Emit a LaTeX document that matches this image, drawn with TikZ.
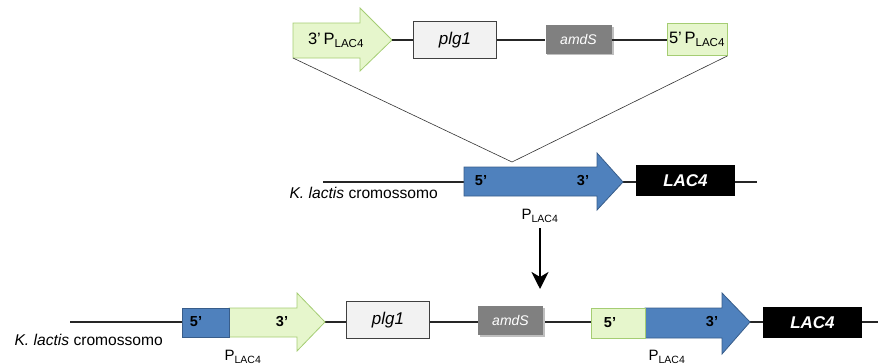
\documentclass[tikz,border=0pt]{standalone}
\usepackage{fontspec}
\setmainfont{Liberation Sans}
\usetikzlibrary{arrows.meta}
\definecolor{lgreen}{RGB}{230,246,204}
\definecolor{dgreen}{RGB}{165,205,115}
\definecolor{pblue}{RGB}{79,129,189}
\definecolor{dblue}{RGB}{56,93,138}
\definecolor{boxgray}{RGB}{242,242,242}
\definecolor{amdgray}{RGB}{128,128,128}
\newcommand\Plac{P\textsubscript{LAC4}}
\begin{document}
\begin{tikzpicture}[x=1pt,y=-1pt,
  chrom/.style={line width=1.1pt, black!85},
  thinline/.style={line width=0.6pt, black!80},
  greenshape/.style={draw=dgreen, fill=lgreen, line width=0.8pt},
  blueshape/.style={draw=dblue, fill=pblue, line width=0.8pt},
  plgbox/.style={draw=black!75, fill=boxgray, line width=0.8pt, minimum width=83pt, minimum height=37pt, inner sep=0pt, font=\fontsize{17}{17}\selectfont\itshape},
  amdbox/.style={fill=amdgray, minimum width=66pt, minimum height=29pt, inner sep=0pt, text=white, font=\fontsize{14}{14}\selectfont\itshape},
  lacbox/.style={fill=black, minimum width=99pt, minimum height=31pt, inner sep=0pt, text=white, font=\fontsize{17}{17}\selectfont\bfseries\itshape},
  primelabel/.style={inner sep=0pt, font=\fontsize{14.5}{14.5}\selectfont\bfseries},
  plabel/.style={inner sep=0pt, font=\fontsize{15}{15}\selectfont},
  toplabel/.style={inner sep=0pt, font=\fontsize{16.5}{16.5}\selectfont},
  chromlabel/.style={inner sep=0pt, anchor=east, font=\fontsize{15.6}{15.6}\selectfont}
]
\useasboundingbox (0,0) rectangle (878,364);

% ---------- top: construct ----------
\draw[greenshape] (293,23) -- (360,23) -- (360,8) -- (392,40) -- (360,71) -- (360,58) -- (293,58) -- cycle;
\coordinate (tA) at (392,40);
\coordinate (tAsw) at (293,58);
\node[toplabel] (t3p) at (336,40) {3'\,\Plac};
\node[plgbox] (tplg) at (455,40) {plg1};
\fill[black!25] (547,27) rectangle (614,55);
\node[amdbox] (tamd) at (578.5,39.5) {amdS};
\node[greenshape, minimum width=60pt, minimum height=32pt, inner sep=0pt, toplabel] (t5p) at (697,39.5) {5'\,\Plac};
\draw[chrom] (tA) -- (tplg.west);
\draw[chrom] (tplg.east) -- (tplg.east -| tamd.west);
\draw[chrom] (tamd.east |- tplg.east) -- (tplg.east -| t5p.west);

% ---------- middle: chromosome ----------
\coordinate (mL) at (323,182);
\coordinate (mR) at (757,182);
\coordinate (apex) at (512,162);
\draw[chrom] (mL) -- (mR);
\draw[blueshape] (464,167) -- (597,167) -- (597,153) -- (623,182) -- (597,210) -- (597,196) -- (464,196) -- cycle;
\node[lacbox] (mlac) at (685.5,180.5) {LAC4};
\node[primelabel] (m5) at (481,181) {5'};
\node[primelabel] (m3) at (583,181) {3'};
\node[plabel] (mP) at (540,216) {\Plac};
\node[chromlabel] (mK) at (438,193) {\textit{K. lactis} cromossomo};
\draw[thinline] (tAsw) -- (apex);
\draw[thinline] (t5p.south east) -- (apex);

% ---------- arrow ----------
\coordinate (arrS) at (540,228);
\coordinate (arrE) at (540,289);
\draw[line width=2.6pt, -{Stealth[length=17pt,width=17pt,inset=5pt]}] (arrS) -- (arrE);

% ---------- bottom: integrated ----------
\coordinate (bL) at (70,322);
\coordinate (bR) at (878,322);
\draw[chrom] (bL) -- (bR);
\draw[greenshape] (229,308) -- (297,308) -- (297,293) -- (325,322) -- (297,351) -- (297,337) -- (229,337) -- cycle;
\draw[blueshape] (182,308) rectangle (229,337);
\node[primelabel] (b5a) at (196,322) {5'};
\node[primelabel] (b3a) at (282,322) {3'};
\node[plabel] (bPa) at (243,357) {\Plac};
\node[chromlabel] (bK) at (163,340) {\textit{K. lactis} cromossomo};
\node[plgbox] (bplg) at (388,320) {plg1};
\fill[black!25] (480,308) rectangle (545,337);
\node[amdbox, minimum width=65pt] (bamd) at (510.5,320.5) {amdS};
\draw[blueshape] (645,308) -- (722,308) -- (722,293) -- (750,322) -- (722,354) -- (722,338) -- (645,338) -- cycle;
\draw[greenshape] (591,308) rectangle (645,338);
\node[primelabel] (b5b) at (610,323) {5'};
\node[primelabel] (b3b) at (712,322) {3'};
\node[plabel] (bPb) at (667,357) {\Plac};
\node[lacbox] (blac) at (812.5,322.5) {LAC4};
\end{tikzpicture}
\end{document}
